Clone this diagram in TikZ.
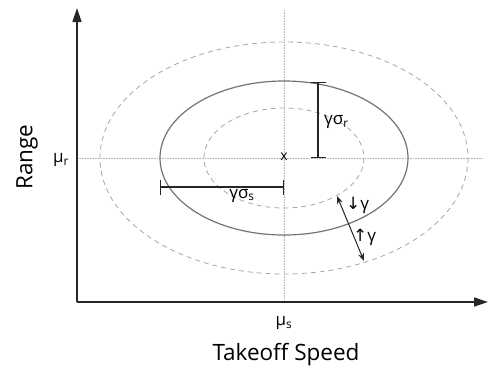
\documentclass[tikz,border=0pt]{standalone}
\usepackage{fontspec}
\setmainfont{Open Sans}
\newfontfamily\symfont{DejaVu Sans}
\usetikzlibrary{arrows.meta}

\begin{document}
\begin{tikzpicture}[
  x=1pt, y=-1pt,
  >=Stealth,
  axis/.style={line width=1.4pt, black!85, -{Triangle[length=14pt,width=9pt]}},
  guide/.style={densely dotted, black!30, line width=0.6pt},
  solidell/.style={line width=1.2pt, black!55},
  dashell/.style={dashed, black!35, line width=0.8pt, dash pattern=on 5pt off 4pt},
  errbar/.style={line width=1.1pt, black!85, {Bar[width=15pt]}-{Bar[width=15pt]}},
  scalearrow/.style={{Stealth[length=8pt,width=6pt]}-{Stealth[length=8pt,width=6pt]}, line width=1pt, black!85},
  lbl/.style={font=\fontsize{17}{17}\selectfont, inner sep=1pt},
  axlbl/.style={font=\fontsize{22.5}{22.5}\selectfont, inner sep=0pt},
]
\useasboundingbox (0,0) rectangle (489,370);

% axes and mean guides
\coordinate (O) at (77,302);
\coordinate (ytop) at (77,8);
\coordinate (xend) at (488,302);
\coordinate (mu) at (284,158);
\draw[guide] (77,158) -- (482,158);
\draw[guide] (284,10) -- (284,302);
\draw[axis] (O) -- (ytop);
\draw[axis] (O) -- (xend);

% ellipses
\draw[dashell] (mu) ellipse[x radius=184, y radius=116];
\draw[dashell] (mu) ellipse[x radius=80, y radius=50];
\draw[solidell] (mu) ellipse[x radius=124, y radius=77];
\node[inner sep=0pt, font=\fontsize{14}{14}\selectfont] (cx) at (284,157) {x};

% spread bars
\coordinate (rtop) at (318,82);
\coordinate (rbot) at (318,158);
\draw[errbar] (rtop) -- (rbot);
\node[lbl, anchor=west] (sr) at (323,122) {γσ\textsubscript{r}};
\coordinate (sleft) at (160,187);
\coordinate (sright) at (284,187);
\draw[errbar] (sleft) -- (sright);
\node[lbl, anchor=north] (ss) at (242,188) {γσ\textsubscript{s}};

% scaling arrow
\coordinate (ain) at (337,196);
\coordinate (aout) at (364,261);
\draw[scalearrow] (ain) -- (aout);
\node[lbl, anchor=west] (dn) at (345,205) {{\symfont\fontsize{17}{17}\selectfont↓}γ};
\node[lbl, anchor=west] (up) at (352,237) {{\symfont\fontsize{17}{17}\selectfont↑}γ};

% axis labels
\node[lbl] (mur) at (61,160) {μ\textsubscript{r}};
\node[lbl] (mus) at (284,323) {μ\textsubscript{s}};
\node[axlbl] (xl) at (286,355) {Takeoff Speed};
\node[axlbl, rotate=90] (yl) at (27,157) {Range};
\end{tikzpicture}
\end{document}
